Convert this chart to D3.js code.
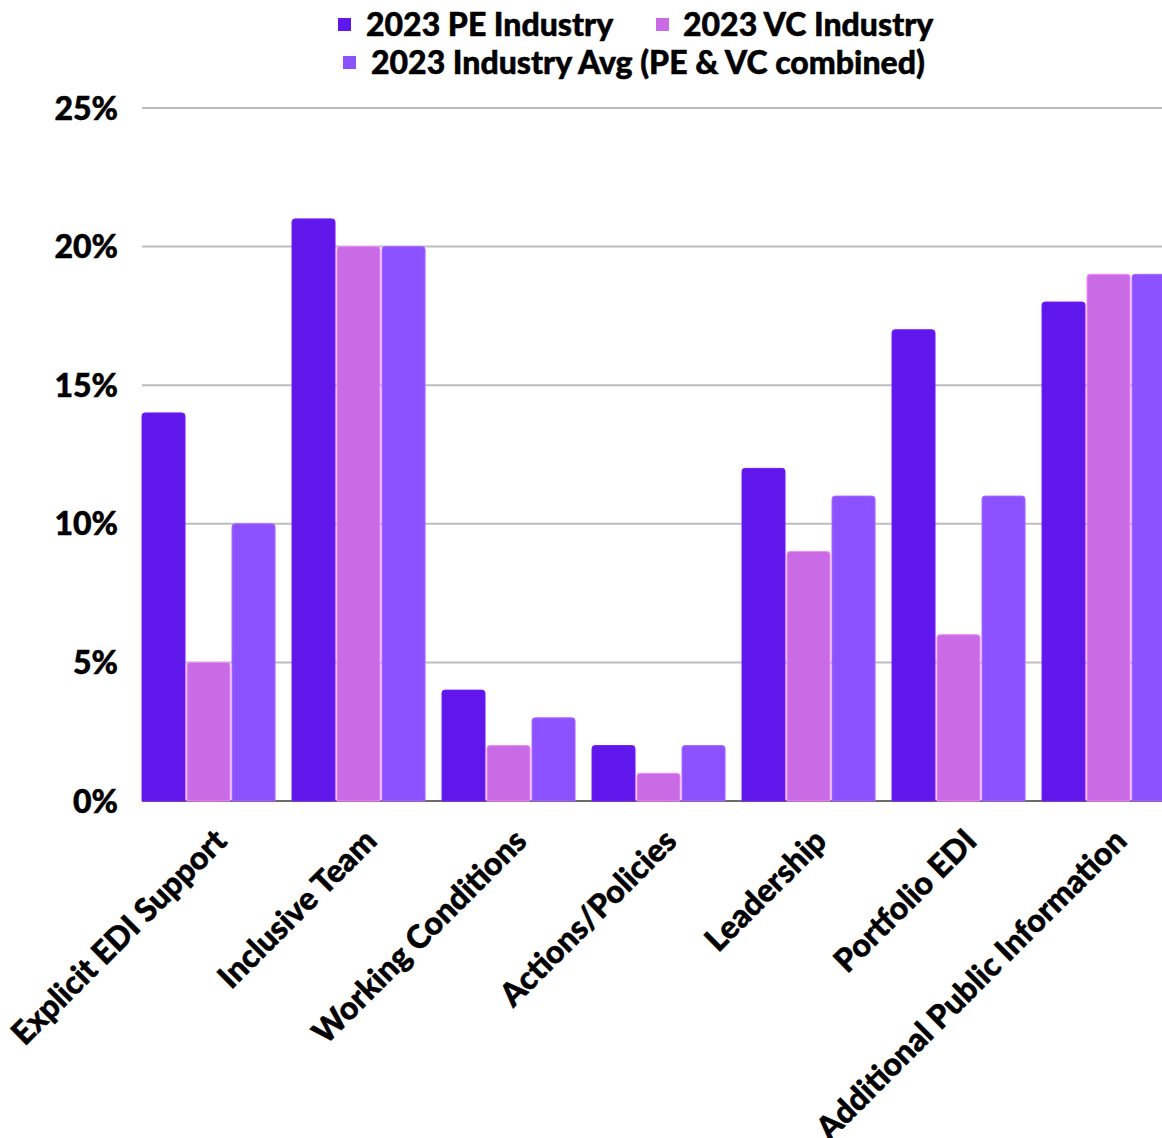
<!DOCTYPE html>
<html>
<head>
<meta charset="utf-8">
<script src="https://cdn.jsdelivr.net/npm/d3@7"></script>
<style>
  html, body { margin: 0; padding: 0; background: #fff; }
  svg { display: block; font-family: Lato, "Noto Sans", sans-serif; }
  svg text { font-weight: 900; stroke: #000; stroke-width: 0.5px; }
</style>
</head>
<body>
<svg id="chart" width="1162" height="1138"></svg>
<script>
// Share of firms (%) by disclosure category
const categories = [
  "Explicit EDI Support",
  "Inclusive Team",
  "Working Conditions",
  "Actions/Policies",
  "Leadership",
  "Portfolio EDI",
  "Additional Public Information"
];
const seriesNames = [
  "2023 PE Industry",
  "2023 VC Industry",
  "2023 Industry Avg (PE & VC combined)"
];
const peValues  = [14, 21, 4, 2, 12, 17, 18];
const vcValues  = [5, 20, 2, 1, 9, 6, 19];
const avgValues = [10, 20, 3, 2, 11, 11, 19];
const yTicks = [0, 5, 10, 15, 20, 25];

const colors = ["#5f17eb", "#c96be5", "#8c52ff"];
const seriesValues = [peValues, vcValues, avgValues];

const svg = d3.select("#chart");
const W = 1162;
const plotLeft = 142, plotTop = 108, plotBottom = 801;
const fontSize = 32;

const x0 = d3.scaleBand()
  .domain(categories)
  .range([plotLeft, plotLeft + 150 * (7 - 0.113)])
  .paddingInner(0.113)
  .paddingOuter(0);

const x1 = d3.scaleBand()
  .domain(d3.range(seriesNames.length))
  .range([0, x0.bandwidth()])
  .paddingInner(2 / 45);

const y = d3.scaleLinear().domain([0, 25]).range([plotBottom, plotTop]);

// horizontal gridlines
svg.append("g")
  .selectAll("line")
  .data(yTicks.filter(t => t > 0))
  .join("line")
  .attr("x1", plotLeft).attr("x2", W)
  .attr("y1", d => y(d)).attr("y2", d => y(d))
  .attr("stroke", "#bdbdbd")
  .attr("stroke-width", 2);

// baseline
svg.append("line")
  .attr("x1", plotLeft).attr("x2", W)
  .attr("y1", y(0)).attr("y2", y(0))
  .attr("stroke", "#6b6b6b")
  .attr("stroke-width", 2);

// y tick labels
svg.append("g")
  .selectAll("text")
  .data(yTicks)
  .join("text")
  .attr("x", 118)
  .attr("y", d => y(d))
  .attr("dy", "0.36em")
  .attr("text-anchor", "end")
  .attr("font-size", fontSize)
  .attr("fill", "#000")
  .text(d => d + "%");

// bar with slightly rounded top corners
function barPath(x, yTop, w, yBase, r) {
  r = Math.min(r, (yBase - yTop) / 2, w / 2);
  return `M${x},${yBase}V${yTop + r}Q${x},${yTop} ${x + r},${yTop}` +
         `H${x + w - r}Q${x + w},${yTop} ${x + w},${yTop + r}V${yBase}Z`;
}

const bars = [];
categories.forEach((c, i) => {
  seriesValues.forEach((vals, s) => {
    bars.push({ cat: c, s, v: vals[i] });
  });
});

svg.append("g")
  .selectAll("path")
  .data(bars)
  .join("path")
  .attr("d", d => barPath(x0(d.cat) + x1(d.s), y(d.v), x1.bandwidth(), y(0), 3))
  .attr("fill", d => colors[d.s])
  .attr("stroke", d => d3.color(colors[d.s]).brighter(0.6))
  .attr("stroke-width", 1);

// rotated category labels
svg.append("g")
  .selectAll("text")
  .data(categories)
  .join("text")
  .attr("transform", d => `translate(${x0(d) + x0.bandwidth() / 2 + 20},${843}) rotate(-45)`)
  .attr("text-anchor", "end")
  .attr("font-size", fontSize)
  .attr("fill", "#000")
  .text(d => d);

// legend
const legendItems = [
  { name: seriesNames[0], color: colors[0], sx: 338, tx: 366, y: 24 },
  { name: seriesNames[1], color: colors[1], sx: 656, tx: 683, y: 24 },
  { name: seriesNames[2], color: colors[2], sx: 343, tx: 371, y: 62 }
];
const lg = svg.append("g").selectAll("g").data(legendItems).join("g");
lg.append("rect")
  .attr("x", d => d.sx).attr("y", d => d.y - 6)
  .attr("width", 13).attr("height", 13)
  .attr("fill", d => d.color);
lg.append("text")
  .attr("x", d => d.tx).attr("y", d => d.y)
  .attr("dy", "0.36em")
  .attr("font-size", fontSize)
  .attr("fill", "#000")
  .text(d => d.name);
</script>
</body>
</html>
